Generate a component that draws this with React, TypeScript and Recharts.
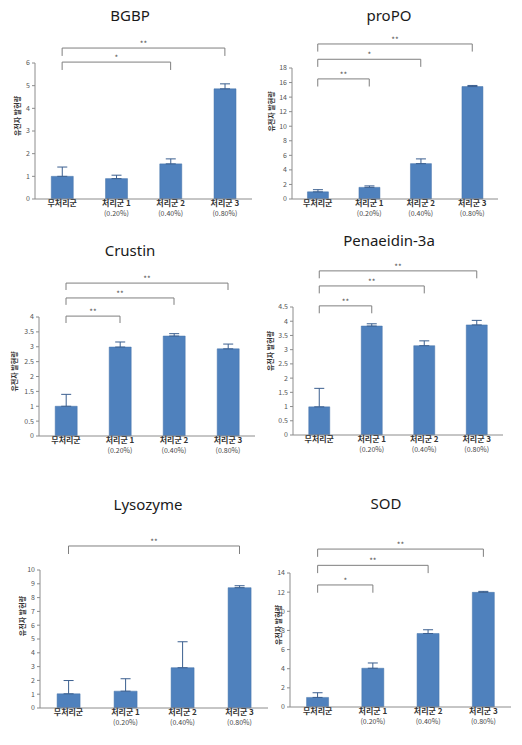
import { BarChart, Bar, XAxis, YAxis, ErrorBar, ReferenceLine } from 'recharts';

const groups = ['무처리군', '처리군 1', '처리군 2', '처리군 3'];
const doses = ['', '(0.20%)', '(0.40%)', '(0.80%)'];
const yTitle = '유전자 발현량';

const bgbpMeans = [1.0, 0.9, 1.55, 4.86];
const bgbpErrors = [0.41, 0.15, 0.22, 0.22];
const bgbpTicks = [0, 1, 2, 3, 4, 5, 6];
const bgbpSig = [
  { to: '처리군 2', mark: '*', level: 6.04 },
  { to: '처리군 3', mark: '**', level: 6.66 },
];

const propoMeans = [0.98, 1.6, 4.86, 15.45];
const propoErrors = [0.3, 0.2, 0.65, 0.15];
const propoTicks = [0, 2, 4, 6, 8, 10, 12, 14, 16, 18];
const propoSig = [
  { to: '처리군 1', mark: '**', level: 16.5 },
  { to: '처리군 2', mark: '*', level: 19.2 },
  { to: '처리군 3', mark: '**', level: 21.3 },
];

const crustinMeans = [1.0, 2.99, 3.36, 2.93];
const crustinErrors = [0.4, 0.17, 0.08, 0.16];
const crustinTicks = [0, 0.5, 1, 1.5, 2, 2.5, 3, 3.5, 4];
const crustinSig = [
  { to: '처리군 1', mark: '**', level: 4.03 },
  { to: '처리군 2', mark: '**', level: 4.64 },
  { to: '처리군 3', mark: '**', level: 5.14 },
];

const penMeans = [0.99, 3.83, 3.14, 3.87];
const penErrors = [0.65, 0.08, 0.17, 0.16];
const penTicks = [0, 0.5, 1, 1.5, 2, 2.5, 3, 3.5, 4, 4.5];
const penSig = [
  { to: '처리군 1', mark: '**', level: 4.54 },
  { to: '처리군 2', mark: '**', level: 5.24 },
  { to: '처리군 3', mark: '**', level: 5.77 },
];

const lysMeans = [1.03, 1.22, 2.92, 8.72];
const lysErrors = [0.96, 0.9, 1.88, 0.14];
const lysTicks = [0, 1, 2, 3, 4, 5, 6, 7, 8, 9, 10];
const lysSig = [{ to: '처리군 3', mark: '**', level: 11.74 }];

const sodMeans = [1.0, 4.05, 7.68, 11.98];
const sodErrors = [0.49, 0.55, 0.39, 0.1];
const sodTicks = [0, 2, 4, 6, 8, 10, 12, 14];
const sodSig = [
  { to: '처리군 1', mark: '*', level: 12.75 },
  { to: '처리군 2', mark: '**', level: 14.8 },
  { to: '처리군 3', mark: '**', level: 16.5 },
];

const FONT = '"Noto Sans CJK KR", "Noto Sans", sans-serif';

function GroupTick(props: any) {
  const { x, y, payload } = props;
  const i = groups.indexOf(payload.value);
  return (
    <g transform={`translate(${x},${y})`}>
      <text textAnchor="middle" y={7} fontSize={8} fontWeight={700} fill="#333" fontFamily={FONT}>
        {payload.value}
      </text>
      {doses[i] ? (
        <text textAnchor="middle" y={17} fontSize={7} fill="#444" fontFamily={FONT}>
          {doses[i]}
        </text>
      ) : null}
    </g>
  );
}

function makeYLabel(dx: number, dy: number) {
  return (props: any) => {
    const vb = props.viewBox || { x: 0, y: 0, width: 0, height: 0 };
    const x = vb.x + vb.width + dx;
    const y = vb.y + vb.height / 2 + dy;
    return (
      <text
        x={x}
        y={y}
        transform={`rotate(-90 ${x} ${y})`}
        textAnchor="middle"
        dominantBaseline="central"
        fontSize={7}
        fontWeight={700}
        fill="#333"
        fontFamily={FONT}
      >
        {yTitle}
      </text>
    );
  };
}

type Sig = { to: string; mark: string; level: number };

function GenePanel(p: {
  title: string;
  means: number[];
  errors: number[];
  ticks: number[];
  sig: Sig[];
  panelX: number;
  plot: { left: number; right: number; top: number; bottom: number };
  titleAt: [number, number];
  label: [number, number];
}) {
  const data = groups.map((g, i) => ({ group: g, mean: p.means[i], err: [0, p.errors[i]] }));
  const max = p.ticks[p.ticks.length - 1];
  const drop = max * 0.058;
  const topSpace = 60;
  const chartTop = p.plot.top - topSpace;
  const width = p.plot.right - p.panelX + 6;
  const height = p.plot.bottom - chartTop + 26;
  const axisW = 20;

  return (
    <>
      <div style={{ position: 'absolute', left: p.panelX, top: chartTop }}>
        <BarChart
          width={width}
          height={height}
          data={data}
          barCategoryGap="30%"
          margin={{ top: topSpace, right: 6, bottom: 0, left: p.plot.left - p.panelX - axisW }}
        >
          <XAxis
            dataKey="group"
            height={26}
            tick={<GroupTick />}
            tickLine={false}
            tickSize={0}
            tickMargin={0}
            interval={0}
            stroke="#8c8c8c"
          />
          <YAxis
            width={axisW}
            domain={[0, max]}
            ticks={p.ticks}
            interval={0}
            tickSize={3}
            tickMargin={2}
            stroke="#8c8c8c"
            tick={{ fontSize: 7, fill: '#555', fontFamily: FONT }}
            label={makeYLabel(p.label[0], p.label[1])}
          />
          <Bar dataKey="mean" fill="#4F81BD" stroke="#4472a8" strokeWidth={0.5} isAnimationActive={false}>
            <ErrorBar dataKey="err" width={5} stroke="#3b5f8f" strokeWidth={1} direction="y" />
          </Bar>
          {p.sig.map((s, k) => (
            <ReferenceLine
              key={`h${k}`}
              segment={[
                { x: groups[0], y: s.level },
                { x: s.to, y: s.level },
              ]}
              ifOverflow="visible"
              stroke="#7f7f7f"
              strokeWidth={1}
              label={{ value: s.mark, position: 'top', offset: 1, fontSize: 8, fill: '#555', fontFamily: FONT }}
            />
          ))}
          {p.sig.map((s, k) => (
            <ReferenceLine
              key={`l${k}`}
              segment={[
                { x: groups[0], y: s.level },
                { x: groups[0], y: s.level - drop },
              ]}
              ifOverflow="visible"
              stroke="#7f7f7f"
              strokeWidth={1}
            />
          ))}
          {p.sig.map((s, k) => (
            <ReferenceLine
              key={`r${k}`}
              segment={[
                { x: s.to, y: s.level },
                { x: s.to, y: s.level - drop },
              ]}
              ifOverflow="visible"
              stroke="#7f7f7f"
              strokeWidth={1}
            />
          ))}
        </BarChart>
      </div>
      <div
        style={{
          position: 'absolute',
          left: p.titleAt[0] - 80,
          top: p.titleAt[1] - 11,
          width: 160,
          textAlign: 'center',
          fontFamily: '"Noto Sans", sans-serif',
          fontSize: 15,
          lineHeight: '22px',
          color: '#1a1a1a',
        }}
      >
        {p.title}
      </div>
    </>
  );
}

export default function App() {
  return (
    <div style={{ position: 'absolute', left: 0, top: 0, width: 522, height: 745, background: '#fff', overflow: 'hidden' }}>
      <GenePanel title="BGBP" means={bgbpMeans} errors={bgbpErrors} ticks={bgbpTicks} sig={bgbpSig}
        panelX={0} plot={{ left: 35, right: 252, top: 63, bottom: 199 }} titleAt={[130, 15]} label={[-18, -15]} />
      <GenePanel title="proPO" means={propoMeans} errors={propoErrors} ticks={propoTicks} sig={propoSig}
        panelX={261} plot={{ left: 292, right: 498, top: 68, bottom: 199 }} titleAt={[389, 15]} label={[-21, -22]} />
      <GenePanel title="Crustin" means={crustinMeans} errors={crustinErrors} ticks={crustinTicks} sig={crustinSig}
        panelX={0} plot={{ left: 39, right: 255, top: 317, bottom: 436 }} titleAt={[130, 250]} label={[-25, -5]} />
      <GenePanel title="Penaeidin-3a" means={penMeans} errors={penErrors} ticks={penTicks} sig={penSig}
        panelX={261} plot={{ left: 293, right: 503, top: 307, bottom: 435 }} titleAt={[389, 240]} label={[-23, -20]} />
      <GenePanel title="Lysozyme" means={lysMeans} errors={lysErrors} ticks={lysTicks} sig={lysSig}
        panelX={0} plot={{ left: 40, right: 268, top: 570, bottom: 708 }} titleAt={[148, 504]} label={[-18, -23]} />
      <GenePanel title="SOD" means={sodMeans} errors={sodErrors} ticks={sodTicks} sig={sodSig}
        panelX={261} plot={{ left: 290, right: 511, top: 573, bottom: 707 }} titleAt={[386, 503]} label={[-12, -15]} />
    </div>
  );
}
